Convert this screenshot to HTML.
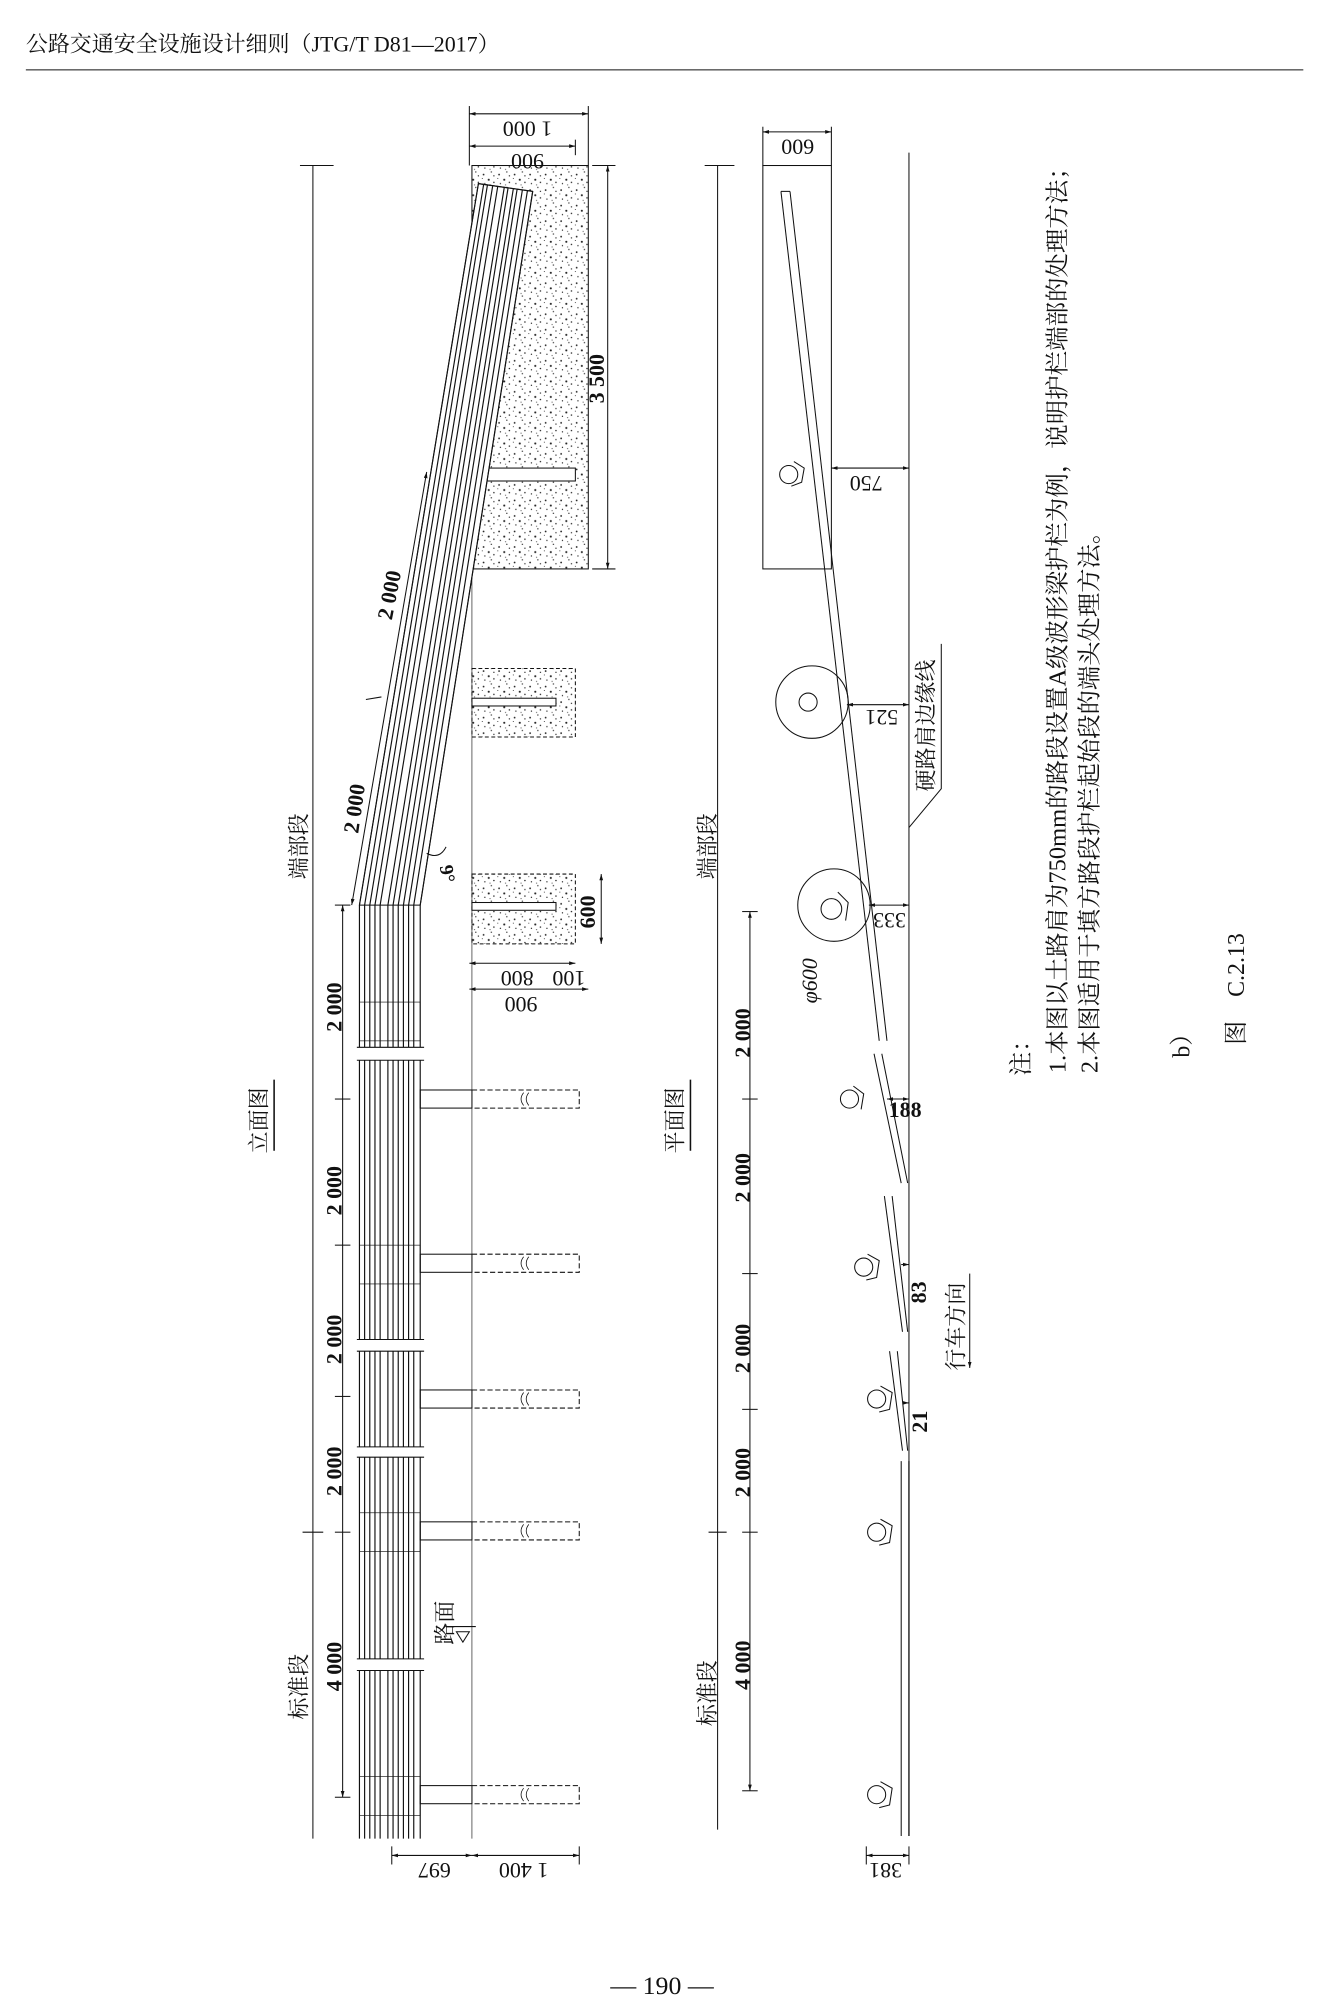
<!DOCTYPE html>
<html><head><meta charset="utf-8"><style>
html,body{margin:0;padding:0;background:#fff;}
svg{display:block;}
text{font-family:"Liberation Serif","Noto Serif CJK SC",serif;fill:#111;}
</style></head><body>
<svg width="1324" height="2015" viewBox="0 0 1024 1558.4" xmlns="http://www.w3.org/2000/svg">
<defs>
<pattern id="sp" width="12" height="12" patternUnits="userSpaceOnUse">
<rect width="12" height="12" fill="#fff"/>
<circle cx="2" cy="3" r="0.7" fill="#222"/><circle cx="8" cy="1" r="0.5" fill="#222"/>
<circle cx="6" cy="7" r="0.8" fill="#222"/><circle cx="10" cy="9" r="0.6" fill="#222"/>
<circle cx="3" cy="10" r="0.5" fill="#222"/><circle cx="10" cy="4" r="0.5" fill="#222"/>
<circle cx="1" cy="6" r="0.4" fill="#222"/><circle cx="7" cy="11" r="0.4" fill="#222"/>
</pattern>
<marker id="a" viewBox="0 0 10 10" refX="10" refY="5" markerWidth="6" markerHeight="6" orient="auto-start-reverse"><path d="M0,2 L10,5 L0,8 z" fill="#111"/></marker>
</defs>
<g stroke="#111" fill="none" stroke-width="0.8">
<line x1="20" y1="54" x2="1008" y2="54"/>
</g>
<text x="20" y="40" font-size="17" font-family="Liberation Sans,Noto Sans CJK SC,sans-serif">公路交通安全设施设计细则（JTG/T  D81—2017）</text>
<text x="512" y="1542" font-size="20" text-anchor="middle">— 190 —</text>

<!-- ================= ELEVATION ================= -->
<g stroke="#111" stroke-width="0.8" fill="none">
<rect x="365" y="128" width="90" height="312" fill="url(#sp)"/>
<rect x="375" y="362" width="70" height="10" fill="#fff"/>
<rect x="365" y="517" width="80" height="53" fill="url(#sp)" stroke-dasharray="3,2"/>
<rect x="365" y="540" width="65" height="6" fill="#fff"/>
<rect x="365" y="676" width="80" height="54" fill="url(#sp)" stroke-dasharray="3,2"/>
<rect x="365" y="698" width="65" height="6" fill="#fff"/>
<line x1="365" y1="440" x2="365" y2="1422" stroke-width="0.5"/>
<polygon points="278,700 325,700 412,148 370,142" fill="#fff"/>
</g>
<g stroke="#111" stroke-width="0.9">
<line x1="278" y1="700" x2="370" y2="142"/><line x1="282" y1="700" x2="374" y2="143"/>
<line x1="286" y1="700" x2="377" y2="143"/><line x1="290" y1="700" x2="381" y2="144"/>
<line x1="294" y1="700" x2="385" y2="144"/><line x1="300" y1="700" x2="390" y2="145"/>
<line x1="304" y1="700" x2="393" y2="145"/><line x1="308" y1="700" x2="397" y2="146"/>
<line x1="312" y1="700" x2="400" y2="146"/><line x1="316" y1="700" x2="404" y2="147"/>
<line x1="320" y1="700" x2="408" y2="147"/><line x1="325" y1="700" x2="412" y2="148"/>
<line x1="370" y1="142" x2="412" y2="148"/>
<g>
<line x1="278" y1="700" x2="278" y2="1422"/><line x1="282" y1="700" x2="282" y2="1422"/>
<line x1="286" y1="700" x2="286" y2="1422"/><line x1="290" y1="700" x2="290" y2="1422"/>
<line x1="294" y1="700" x2="294" y2="1422"/><line x1="300" y1="700" x2="300" y2="1422"/>
<line x1="304" y1="700" x2="304" y2="1422"/><line x1="308" y1="700" x2="308" y2="1422"/>
<line x1="312" y1="700" x2="312" y2="1422"/><line x1="316" y1="700" x2="316" y2="1422"/>
<line x1="320" y1="700" x2="320" y2="1422"/><line x1="325" y1="700" x2="325" y2="1422"/>
</g>
</g>
<g fill="#fff" stroke="none">
<rect x="276" y="810" width="52" height="10"/><rect x="276" y="1036" width="52" height="9"/>
<rect x="276" y="1119" width="52" height="8"/><rect x="276" y="1283" width="52" height="9"/>
</g>
<g stroke="#111" stroke-width="0.8" fill="none">
<line x1="276" y1="810" x2="328" y2="810"/><line x1="276" y1="820" x2="328" y2="820"/>
<line x1="276" y1="1036" x2="328" y2="1036"/><line x1="276" y1="1045" x2="328" y2="1045"/>
<line x1="276" y1="1119" x2="328" y2="1119"/><line x1="276" y1="1127" x2="328" y2="1127"/>
<line x1="276" y1="1283" x2="328" y2="1283"/><line x1="276" y1="1292" x2="328" y2="1292"/>
<g>
<rect x="325" y="843" width="40" height="14"/><path d="M365,843 H448 V857 H365" stroke-dasharray="4,2"/>
<rect x="325" y="970" width="40" height="14"/><path d="M365,970 H448 V984 H365" stroke-dasharray="4,2"/>
<rect x="325" y="1075" width="40" height="14"/><path d="M365,1075 H448 V1089 H365" stroke-dasharray="4,2"/>
<rect x="325" y="1177" width="40" height="14"/><path d="M365,1177 H448 V1191 H365" stroke-dasharray="4,2"/>
<rect x="325" y="1381" width="40" height="14"/><path d="M365,1381 H448 V1395 H365" stroke-dasharray="4,2"/>
<path d="M405,845 q-4,5 0,10 M409,845 q-4,5 0,10 M405,972 q-4,5 0,10 M409,972 q-4,5 0,10 M405,1077 q-4,5 0,10 M409,1077 q-4,5 0,10 M405,1179 q-4,5 0,10 M409,1179 q-4,5 0,10 M405,1383 q-4,5 0,10 M409,1383 q-4,5 0,10" stroke-width="0.6"/>
</g>
<rect x="278" y="963" width="47" height="30" stroke-width="0.5"/>
<rect x="278" y="1170" width="47" height="30" stroke-width="0.5"/>
<rect x="278" y="1374" width="47" height="30" stroke-width="0.5"/>
<rect x="278" y="775" width="47" height="30" stroke-width="0.5"/>
<line x1="242" y1="128" x2="242" y2="1422"/>
<line x1="232" y1="128" x2="258" y2="128"/><line x1="234" y1="1185" x2="250" y2="1185"/>
<line x1="265" y1="700" x2="265" y2="1390" marker-start="url(#a)" marker-end="url(#a)"/>
<line x1="259" y1="850" x2="271" y2="850"/><line x1="259" y1="963" x2="271" y2="963"/>
<line x1="259" y1="1080" x2="271" y2="1080"/><line x1="259" y1="1185" x2="271" y2="1185"/>
<line x1="259" y1="1390" x2="271" y2="1390"/><line x1="259" y1="700" x2="271" y2="700"/>
<line x1="272" y1="700" x2="330" y2="365" marker-start="url(#a)" marker-end="url(#a)"/>
<line x1="283" y1="541" x2="295" y2="539"/>
<line x1="363" y1="82" x2="363" y2="128"/><line x1="455" y1="82" x2="455" y2="128"/>
<line x1="445" y1="108" x2="445" y2="120"/>
<line x1="363" y1="88" x2="455" y2="88" marker-start="url(#a)" marker-end="url(#a)"/>
<line x1="363" y1="113" x2="445" y2="113" marker-start="url(#a)" marker-end="url(#a)"/>
<line x1="470" y1="128" x2="470" y2="440" marker-start="url(#a)" marker-end="url(#a)"/>
<line x1="458" y1="128" x2="476" y2="128"/><line x1="458" y1="440" x2="476" y2="440"/>
<line x1="465" y1="676" x2="465" y2="730" marker-start="url(#a)" marker-end="url(#a)"/>
<line x1="363" y1="745" x2="445" y2="745" marker-start="url(#a)" marker-end="url(#a)"/>
<line x1="363" y1="765" x2="455" y2="765" marker-start="url(#a)" marker-end="url(#a)"/>
<line x1="303" y1="1435" x2="365" y2="1435" marker-start="url(#a)" marker-end="url(#a)"/>
<line x1="365" y1="1435" x2="448" y2="1435" marker-start="url(#a)" marker-end="url(#a)"/>
<line x1="303" y1="1428" x2="303" y2="1442"/><line x1="448" y1="1428" x2="448" y2="1442"/>
<path d="M330,660 Q340,665 345,655"/>
<path d="M353,1262 L363,1262 L358,1270 Z"/>
<line x1="350" y1="1258" x2="368" y2="1258"/>
<line x1="212" y1="835" x2="212" y2="890" stroke-width="1.2"/>
</g>
<g font-size="17">
<text transform="translate(237,680) rotate(-90)">端部段</text>
<text transform="translate(237,1330) rotate(-90)">标准段</text>
<text transform="translate(206,892) rotate(-90)">立面图</text>
<text transform="translate(350,1272) rotate(-90)">路面</text>
</g>
<g font-size="17" font-weight="bold">
<text transform="translate(264,798) rotate(-90)">2 000</text>
<text transform="translate(264,940) rotate(-90)">2 000</text>
<text transform="translate(264,1055) rotate(-90)">2 000</text>
<text transform="translate(264,1157) rotate(-90)">2 000</text>
<text transform="translate(264,1308) rotate(-90)">4 000</text>
<text transform="translate(277,645) rotate(-82)">2 000</text>
<text transform="translate(303,480) rotate(-79)">2 000</text>
<text transform="translate(467,312) rotate(-90)">3 500</text>
<text transform="translate(460,718) rotate(-90)">600</text>
<text transform="translate(340,670) rotate(80)" font-size="15">9°</text>
</g>
<g font-size="17">
<text transform="translate(408,94) rotate(180)" text-anchor="middle">1 000</text>
<text transform="translate(408,119) rotate(180)" text-anchor="middle">900</text>
<text transform="translate(400,751) rotate(180)" text-anchor="middle">800</text>
<text transform="translate(440,751) rotate(180)" text-anchor="middle">100</text>
<text transform="translate(403,771) rotate(180)" text-anchor="middle">900</text>
<text transform="translate(336,1441) rotate(180)" text-anchor="middle">697</text>
<text transform="translate(405,1441) rotate(180)" text-anchor="middle">1 400</text>
</g>

<!-- ================= PLAN ================= -->
<g stroke="#111" stroke-width="0.8" fill="none">
<rect x="590" y="128" width="53" height="312"/>
<line x1="590" y1="98" x2="590" y2="128"/><line x1="643" y1="98" x2="643" y2="128"/>
<line x1="590" y1="102" x2="643" y2="102" marker-start="url(#a)" marker-end="url(#a)"/>
<line x1="703" y1="118" x2="703" y2="1420"/>
<line x1="604" y1="148" x2="680" y2="805"/>
<line x1="611" y1="148" x2="686" y2="805"/>
<line x1="604" y1="148" x2="611" y2="148"/>
<line x1="676" y1="815" x2="697" y2="915"/><line x1="682" y1="815" x2="702" y2="915"/>
<line x1="684" y1="925" x2="698" y2="1030"/><line x1="690" y1="925" x2="702" y2="1030"/>
<line x1="688" y1="1045" x2="698" y2="1122"/><line x1="694" y1="1045" x2="702" y2="1122"/>
<line x1="697" y1="1130" x2="697" y2="1420"/>
<line x1="703" y1="1130" x2="703" y2="1420" stroke-width="1"/>
<g>
<circle cx="610" cy="367" r="7"/><path d="M614,357 L622,362 L620,373 L612,376"/>
<circle cx="625" cy="543" r="7"/><circle cx="628" cy="543" r="28"/>
<circle cx="643" cy="703" r="8"/><circle cx="645" cy="700" r="28"/><path d="M648,690 L656,698 L654,712"/>
<circle cx="657" cy="850" r="7"/><path d="M660,840 L668,846 L666,858"/>
<circle cx="668" cy="980" r="7"/><path d="M671,970 L680,975 L678,988 L670,990"/>
<circle cx="678" cy="1082" r="7"/><path d="M681,1072 L690,1077 L688,1090 L680,1092"/>
<circle cx="678" cy="1185" r="7"/><path d="M681,1175 L690,1180 L688,1193 L680,1195"/>
<circle cx="678" cy="1388" r="7"/><path d="M681,1378 L690,1383 L688,1396 L680,1398"/>
</g>
<line x1="555" y1="128" x2="555" y2="1415"/>
<line x1="545" y1="128" x2="568" y2="128"/><line x1="548" y1="1185" x2="562" y2="1185"/>
<line x1="580" y1="705" x2="580" y2="1385" marker-start="url(#a)" marker-end="url(#a)"/>
<line x1="574" y1="705" x2="586" y2="705"/><line x1="574" y1="850" x2="586" y2="850"/>
<line x1="574" y1="985" x2="586" y2="985"/><line x1="574" y1="1090" x2="586" y2="1090"/>
<line x1="574" y1="1185" x2="586" y2="1185"/><line x1="574" y1="1385" x2="586" y2="1385"/>
<line x1="643" y1="362" x2="703" y2="362" marker-start="url(#a)" marker-end="url(#a)"/>
<line x1="655" y1="545" x2="703" y2="545" marker-start="url(#a)" marker-end="url(#a)"/>
<line x1="672" y1="700" x2="703" y2="700" marker-start="url(#a)" marker-end="url(#a)"/>
<line x1="686" y1="850" x2="703" y2="850" marker-start="url(#a)" marker-end="url(#a)"/>
<line x1="697" y1="978" x2="703" y2="978" marker-end="url(#a)"/>
<line x1="700" y1="1085" x2="703" y2="1085" marker-end="url(#a)"/>
<line x1="670" y1="1435" x2="703" y2="1435" marker-start="url(#a)" marker-end="url(#a)"/>
<line x1="670" y1="1428" x2="670" y2="1442"/><line x1="703" y1="1428" x2="703" y2="1442"/>
<path d="M703,640 L728,610 L728,498"/>
<line x1="750" y1="985" x2="750" y2="1058" marker-end="url(#a)"/>
<line x1="534" y1="835" x2="534" y2="890" stroke-width="1.2"/>
</g>
<g font-size="17">
<text transform="translate(553,680) rotate(-90)">端部段</text>
<text transform="translate(553,1335) rotate(-90)">标准段</text>
<text transform="translate(528,892) rotate(-90)">平面图</text>
<text transform="translate(722,612) rotate(-90)">硬路肩边缘线</text>
<text transform="translate(745,1060) rotate(-90)">行车方向</text>
</g>
<g font-size="17" font-weight="bold">
<text transform="translate(580,818) rotate(-90)">2 000</text>
<text transform="translate(580,930) rotate(-90)">2 000</text>
<text transform="translate(580,1062) rotate(-90)">2 000</text>
<text transform="translate(580,1158) rotate(-90)">2 000</text>
<text transform="translate(580,1307) rotate(-90)">4 000</text>
<text transform="translate(632,776) rotate(-90)" font-weight="normal" font-style="italic">φ600</text>
<text transform="translate(716,1008) rotate(-90)">83</text>
<text transform="translate(717,1108) rotate(-90)">21</text>
</g>
<g font-size="17">
<text transform="translate(617,108) rotate(180)" text-anchor="middle">600</text>
<text transform="translate(670,368) rotate(180)" text-anchor="middle">750</text>
<text transform="translate(682,549) rotate(180)" text-anchor="middle">521</text>
<text transform="translate(688,706) rotate(180)" text-anchor="middle">333</text>
<text transform="translate(700,864)" text-anchor="middle" font-weight="bold">188</text>
<text transform="translate(685,1441) rotate(180)" text-anchor="middle">381</text>
</g>

<!-- ================= NOTES ================= -->
<g font-size="18.5">
<text transform="translate(796,832) rotate(-90)">注：</text>
<text transform="translate(824,830) rotate(-90)" textLength="710" lengthAdjust="spacingAndGlyphs">1.本图以土路肩为750mm的路段设置A级波形梁护栏为例，说明护栏端部的处理方法；</text>
<text transform="translate(849,830) rotate(-90)" textLength="428" lengthAdjust="spacingAndGlyphs">2.本图适用于填方路段护栏起始段的端头处理方法。</text>
<text transform="translate(920,818) rotate(-90)">b）</text>
<text transform="translate(962,808) rotate(-90)">图　C.2.13</text>
</g>
</svg>
</body></html>
